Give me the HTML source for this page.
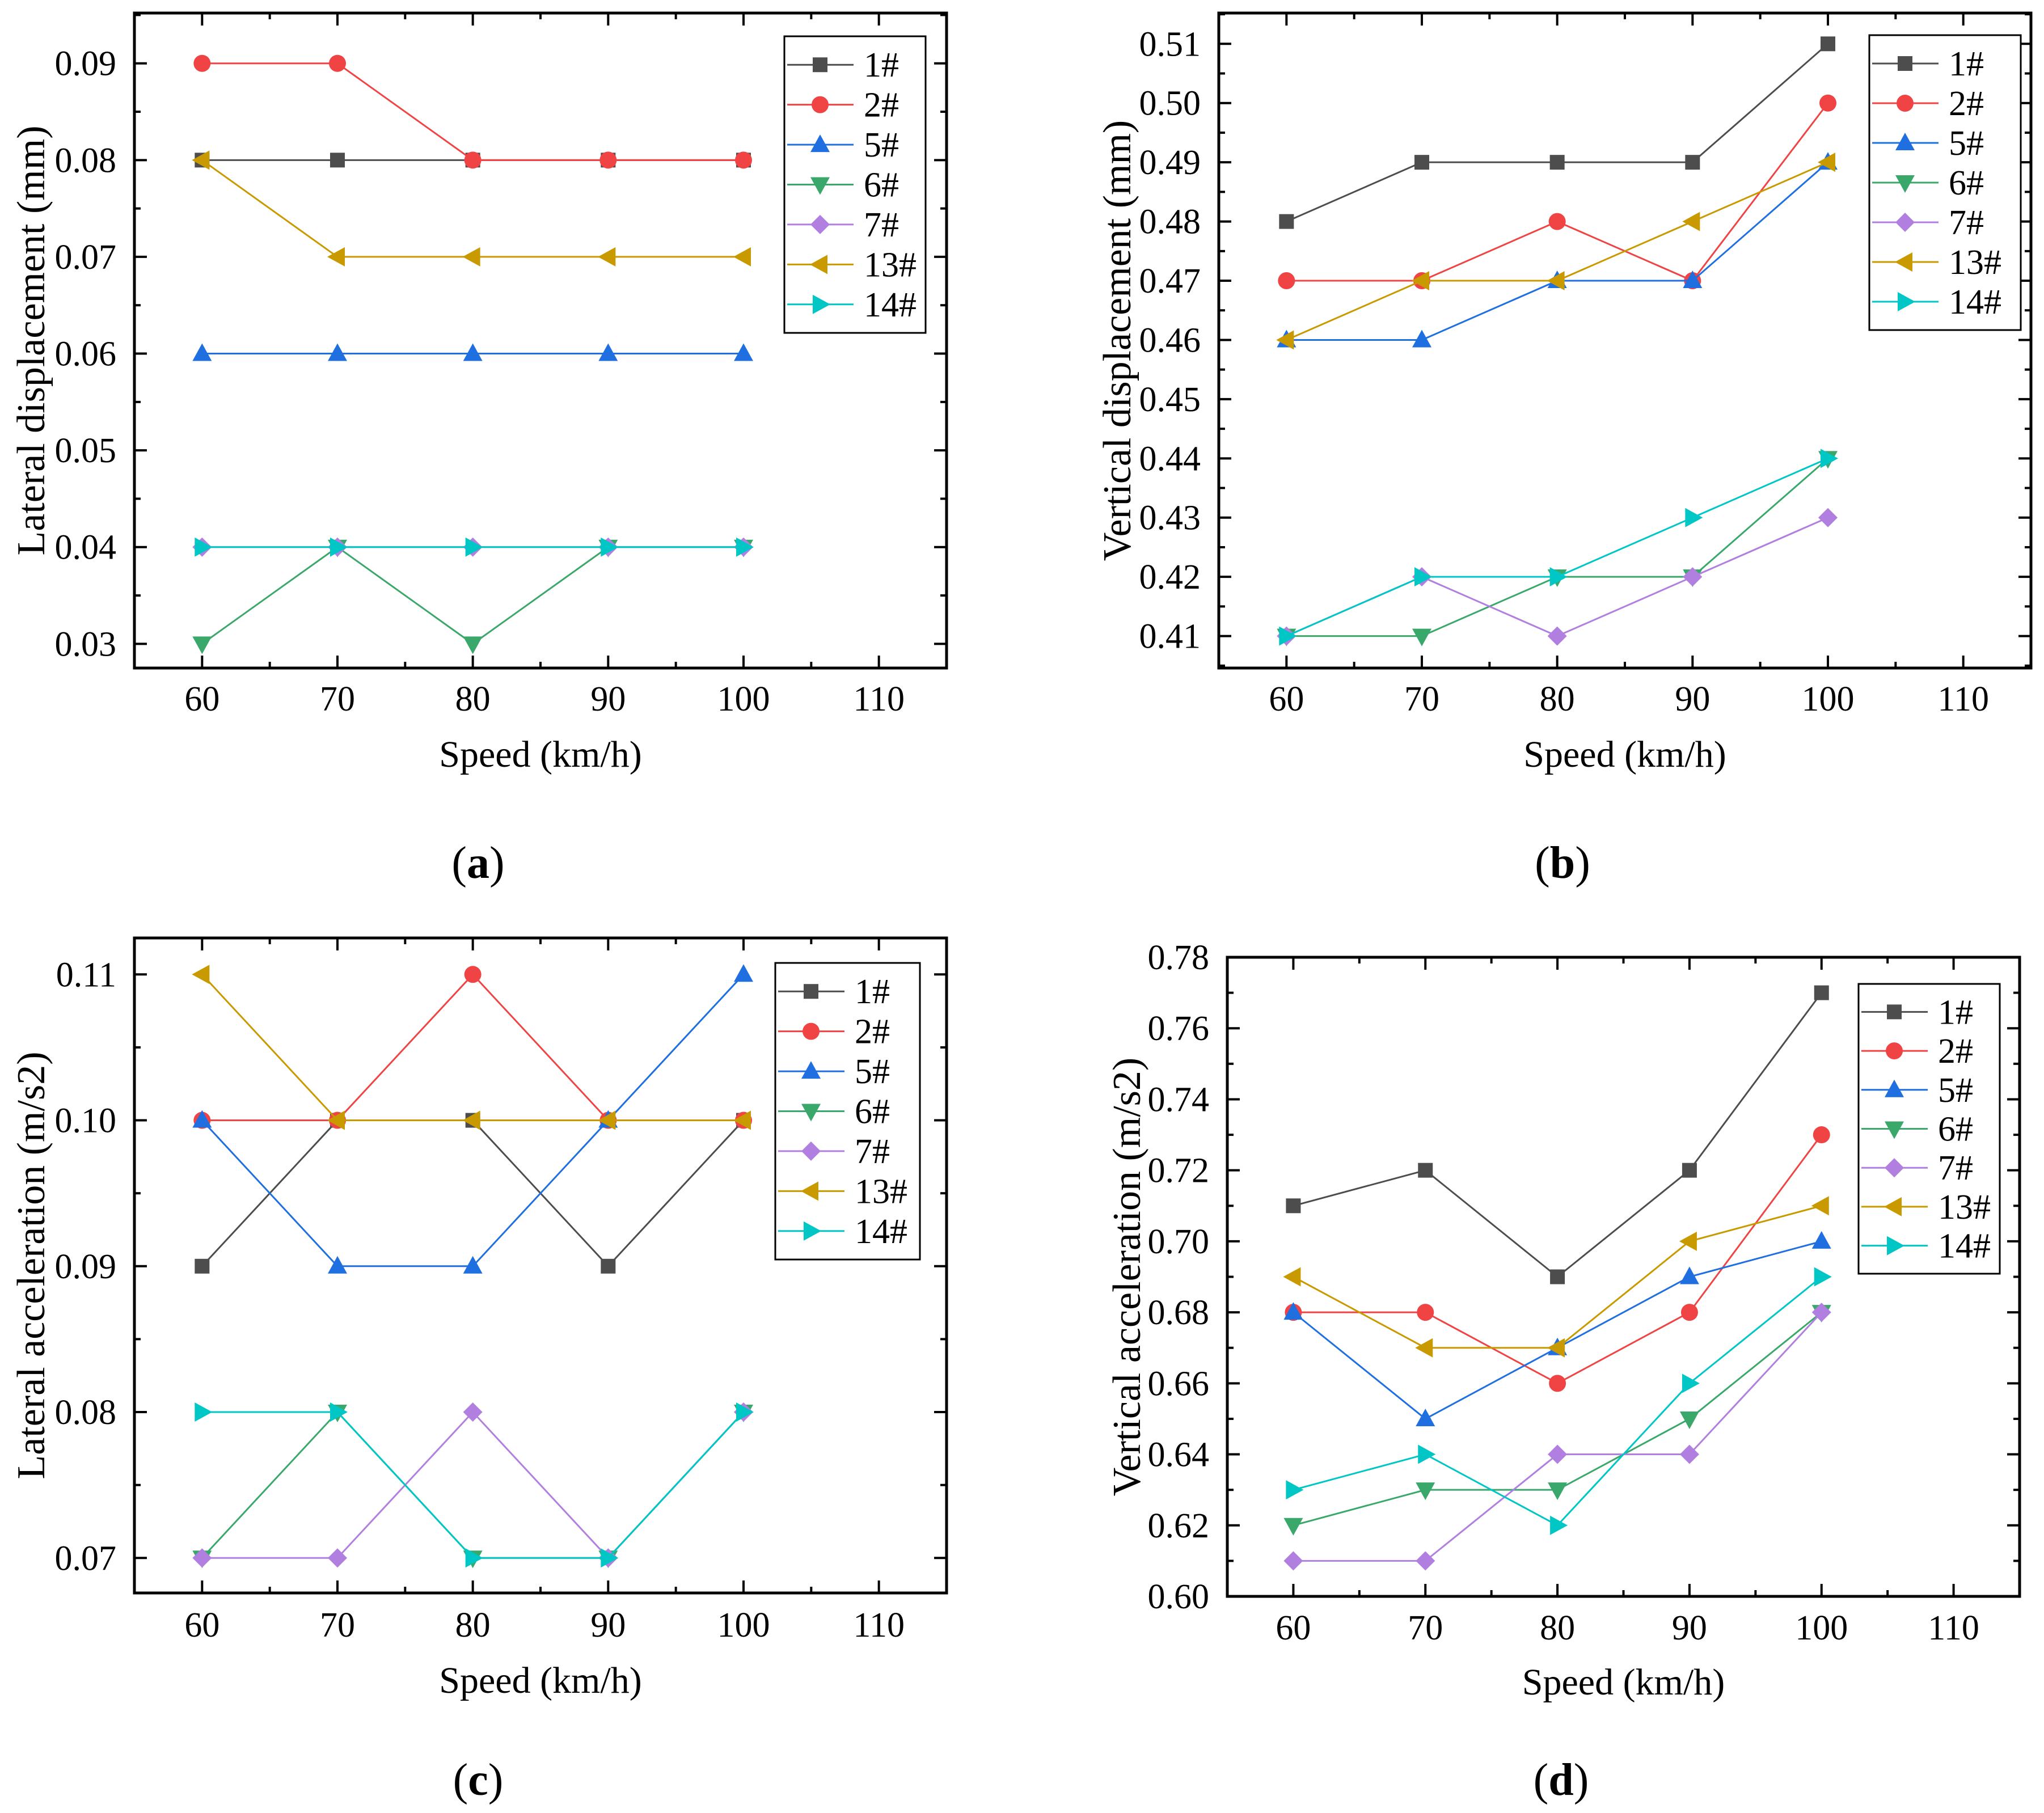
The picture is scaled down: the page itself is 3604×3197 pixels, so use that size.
<!DOCTYPE html>
<html><head><meta charset="utf-8"><style>
html,body{margin:0;padding:0;background:#fff;}
svg{display:block;}
svg text{font-family:"Liberation Serif","Times New Roman",serif;}
</style></head><body>
<svg id="fig" width="3604" height="3197" viewBox="0 0 3604 3197" xmlns="http://www.w3.org/2000/svg"></svg>
<script>
const speeds = [60, 70, 80, 90, 100];
const seriesNames = ["1#", "2#", "5#", "6#", "7#", "13#", "14#"];
const seriesColors = ["#4d4d4d", "#f04444", "#1f6fe0", "#3aa86a", "#b07fe0", "#c99a00", "#00c6c6"];
const seriesMarkers = ["square", "circle", "up", "down", "diamond", "left", "right"];

// (a) Lateral displacement
const a_s1 = [0.08, 0.08, 0.08, 0.08, 0.08];
const a_s2 = [0.09, 0.09, 0.08, 0.08, 0.08];
const a_s5 = [0.06, 0.06, 0.06, 0.06, 0.06];
const a_s6 = [0.03, 0.04, 0.03, 0.04, 0.04];
const a_s7 = [0.04, 0.04, 0.04, 0.04, 0.04];
const a_s13 = [0.08, 0.07, 0.07, 0.07, 0.07];
const a_s14 = [0.04, 0.04, 0.04, 0.04, 0.04];
const a_yticks = ["0.03", "0.04", "0.05", "0.06", "0.07", "0.08", "0.09"];
// (b) Vertical displacement
const b_s1 = [0.48, 0.49, 0.49, 0.49, 0.51];
const b_s2 = [0.47, 0.47, 0.48, 0.47, 0.50];
const b_s5 = [0.46, 0.46, 0.47, 0.47, 0.49];
const b_s6 = [0.41, 0.41, 0.42, 0.42, 0.44];
const b_s7 = [0.41, 0.42, 0.41, 0.42, 0.43];
const b_s13 = [0.46, 0.47, 0.47, 0.48, 0.49];
const b_s14 = [0.41, 0.42, 0.42, 0.43, 0.44];
const b_yticks = ["0.41", "0.42", "0.43", "0.44", "0.45", "0.46", "0.47", "0.48", "0.49", "0.50", "0.51"];
// (c) Lateral acceleration
const c_s1 = [0.09, 0.10, 0.10, 0.09, 0.10];
const c_s2 = [0.10, 0.10, 0.11, 0.10, 0.10];
const c_s5 = [0.10, 0.09, 0.09, 0.10, 0.11];
const c_s6 = [0.07, 0.08, 0.07, 0.07, 0.08];
const c_s7 = [0.07, 0.07, 0.08, 0.07, 0.08];
const c_s13 = [0.11, 0.10, 0.10, 0.10, 0.10];
const c_s14 = [0.08, 0.08, 0.07, 0.07, 0.08];
const c_yticks = ["0.07", "0.08", "0.09", "0.10", "0.11"];
// (d) Vertical acceleration
const d_s1 = [0.71, 0.72, 0.69, 0.72, 0.77];
const d_s2 = [0.68, 0.68, 0.66, 0.68, 0.73];
const d_s5 = [0.68, 0.65, 0.67, 0.69, 0.70];
const d_s6 = [0.62, 0.63, 0.63, 0.65, 0.68];
const d_s7 = [0.61, 0.61, 0.64, 0.64, 0.68];
const d_s13 = [0.69, 0.67, 0.67, 0.70, 0.71];
const d_s14 = [0.63, 0.64, 0.62, 0.66, 0.69];
const d_yticks = ["0.60", "0.62", "0.64", "0.66", "0.68", "0.70", "0.72", "0.74", "0.76", "0.78"];
const xticks = ["60", "70", "80", "90", "100", "110"];

const NS = "http://www.w3.org/2000/svg";
const svg = document.getElementById("fig");
function mk(tag, attrs, parent) {
  const e = document.createElementNS(NS, tag);
  for (const k in attrs) e.setAttribute(k, attrs[k]);
  (parent || svg).appendChild(e);
  return e;
}
function marker(g, type, cx, cy, color) {
  let e;
  if (type === "square") e = mk("rect", {x: cx-13, y: cy-13, width: 26, height: 26, fill: color}, g);
  else if (type === "circle") e = mk("circle", {cx: cx, cy: cy, r: 15, fill: color}, g);
  else {
    let p;
    if (type === "up") p = [[cx, cy-18], [cx+17, cy+13], [cx-17, cy+13]];
    if (type === "down") p = [[cx, cy+18], [cx+17, cy-13], [cx-17, cy-13]];
    if (type === "left") p = [[cx-18, cy], [cx+13, cy-17], [cx+13, cy+17]];
    if (type === "right") p = [[cx+18, cy], [cx-13, cy-17], [cx-13, cy+17]];
    if (type === "diamond") p = [[cx, cy-17], [cx+17, cy], [cx, cy+17], [cx-17, cy]];
    e = mk("polygon", {points: p.map(q => q.join(",")).join(" "), fill: color}, g);
  }
  
  
}

function panel(cfg) {
  const g = mk("g", {});
  
  
  const {L, R, T, B, ymin, ymax} = cfg;
  const xmin = 55, xmax = 115;
  const X = v => L + (v - xmin) / (xmax - xmin) * (R - L);
  const Y = v => B - (v - ymin) / (ymax - ymin) * (B - T);
  cfg.series.forEach((vals, i) => {
    const pl = mk("polyline", {points: speeds.map((s, j) => X(s) + "," + Y(vals[j])).join(" "), fill: "none", stroke: seriesColors[i], "stroke-width": 3}, g);
    
    
    speeds.forEach((s, j) => marker(g, seriesMarkers[i], X(s), Y(vals[j]), seriesColors[i]));
  });
  const fr = mk("rect", {x: L, y: T, width: R - L, height: B - T, fill: "none", stroke: "#000", "stroke-width": 5}, g);
  
  
  for (let v = 60; v <= 110; v += 5) {
    const x = X(v), len = (v % 10 === 0) ? 22 : 11;
    mk("line", {x1: x, x2: x, y1: B, y2: B - len, stroke: "#000", "stroke-width": 4}, g);
    mk("line", {x1: x, x2: x, y1: T, y2: T + len, stroke: "#000", "stroke-width": 4}, g);
  }
  xticks.forEach(t => {
    const tx = mk("text", {x: X(+t), y: cfg.xlabY, "font-size": 62, "text-anchor": "middle"}, g);
    tx.textContent = t;
    
    
  });
  const step = +cfg.yticks[1] - +cfg.yticks[0];
  const y0 = +cfg.yticks[0];
  for (let k = -1; k <= cfg.yticks.length * 2; k++) {
    const v = y0 + k * step / 2;
    if (v < ymin - 1e-9 || v > ymax + 1e-9) continue;
    const y = Y(v), len = (k % 2 === 0) ? 22 : 11;
    mk("line", {x1: L, x2: L + len, y1: y, y2: y, stroke: "#000", "stroke-width": 4}, g);
    mk("line", {x1: R, x2: R - len, y1: y, y2: y, stroke: "#000", "stroke-width": 4}, g);
  }
  cfg.yticks.forEach(t => {
    const tx = mk("text", {x: L - 32, y: Y(+t) + 21, "font-size": 62, "text-anchor": "end"}, g);
    tx.textContent = t;
    
    
  });
  const xt = mk("text", {x: (L + R) / 2, y: cfg.xtitleY, "font-size": 66, "text-anchor": "middle"}, g);
  xt.textContent = "Speed (km/h)";
  
  
  const yt = mk("text", {x: 0, y: 0, "font-size": 70, "text-anchor": "middle", transform: `translate(${cfg.ytitleX},${(T + B) / 2}) rotate(-90)`}, g);
  yt.textContent = cfg.ytitle;
  
  
  const pl = mk("text", {x: (L + R) / 2 - 110, y: cfg.labY, "font-size": 80, "text-anchor": "middle"}, g);
  pl.innerHTML = '(<tspan font-weight="bold">' + cfg.letter + '</tspan>)';
  
  
  const lg = mk("g", {}, g);
  
  
  const [lx, ly, lw, lh] = cfg.leg;
  mk("rect", {x: lx, y: ly, width: lw, height: lh, fill: "#fff", stroke: "#000", "stroke-width": 3}, lg);
  const sp = (lh - 30) / 7;
  seriesNames.forEach((n, i) => {
    const ey = ly + 15 + sp * (i + 0.5);
    const e = mk("g", {}, lg);
    
    
    mk("line", {x1: lx + 5, x2: lx + 122, y1: ey, y2: ey, stroke: seriesColors[i], "stroke-width": 3}, e);
    marker(e, seriesMarkers[i], lx + 63, ey, seriesColors[i]);
    const t = mk("text", {x: lx + 140, y: ey + 21, "font-size": 62}, e);
    t.textContent = n;
  });
}

panel({name: "panel-a-lateral-displacement", L: 237, R: 1669, T: 23, B: 1178, ymin: 0.0275, ymax: 0.0952,
  series: [a_s1, a_s2, a_s5, a_s6, a_s7, a_s13, a_s14], yticks: a_yticks,
  xlabY: 1253, xtitleY: 1352, ytitleX: 78, ytitle: "Lateral displacement (mm)", labY: 1548, letter: "a",
  leg: [1383, 64, 249, 523]});
panel({name: "panel-b-vertical-displacement", L: 2149, R: 3581, T: 23, B: 1178, ymin: 0.4046, ymax: 0.5152,
  series: [b_s1, b_s2, b_s5, b_s6, b_s7, b_s13, b_s14], yticks: b_yticks,
  xlabY: 1253, xtitleY: 1352, ytitleX: 1993, ytitle: "Vertical displacement (mm)", labY: 1548, letter: "b",
  leg: [3296, 62, 267, 520]});
panel({name: "panel-c-lateral-acceleration", L: 237, R: 1669, T: 1654, B: 2809, ymin: 0.0676, ymax: 0.1125,
  series: [c_s1, c_s2, c_s5, c_s6, c_s7, c_s13, c_s14], yticks: c_yticks,
  xlabY: 2886, xtitleY: 2985, ytitleX: 78, ytitle: "Lateral acceleration (m/s2)", labY: 3165, letter: "c",
  leg: [1367, 1698, 255, 523]});
panel({name: "panel-d-vertical-acceleration", L: 2164, R: 3561, T: 1688, B: 2815, ymin: 0.60, ymax: 0.78,
  series: [d_s1, d_s2, d_s5, d_s6, d_s7, d_s13, d_s14], yticks: d_yticks,
  xlabY: 2891, xtitleY: 2988, ytitleX: 2010, ytitle: "Vertical acceleration (m/s2)", labY: 3165, letter: "d",
  leg: [3277, 1735, 249, 511]});
</script>
</body></html>
